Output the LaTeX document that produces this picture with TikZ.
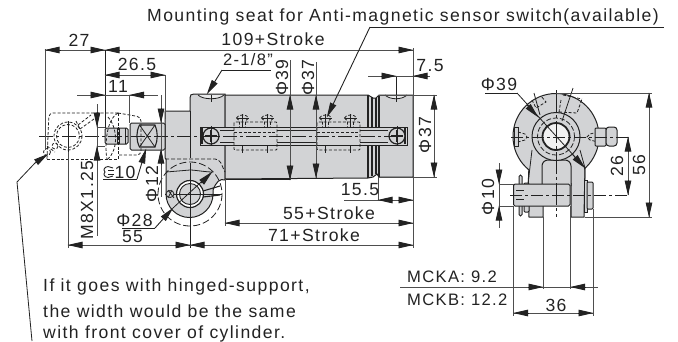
\documentclass[tikz,border=0pt]{standalone}
\usepackage{fontspec}
\setmainfont[LetterSpace=8]{Liberation Sans}
\usetikzlibrary{arrows.meta}
\definecolor{bodygray}{HTML}{D2D3D5}
\definecolor{inkc}{HTML}{222222}
\tikzset{
  txt/.style={inner sep=0pt,text=inkc,font=\fontsize{17.6}{20}\selectfont},
  txtb/.style={inner sep=0pt,text=inkc,font=\fontsize{16.6}{20}\selectfont},
  dimline/.style={line width=0.9pt,draw=inkc!80!white},
  thinl/.style={line width=0.8pt,draw=inkc},
  outl/.style={line width=1.1pt,draw=inkc},
  bodyfill/.style={fill=bodygray,draw=inkc,line width=1pt},
  dsh/.style={line width=0.8pt,draw=inkc,dash pattern=on 3pt off 1.8pt},
  ctr/.style={line width=0.8pt,draw=inkc,dash pattern=on 14pt off 3pt on 3pt off 3pt},
  tip/.style={line width=0.9pt,draw=inkc,-{Stealth[length=15pt,width=6.5pt,inset=0pt]},shorten >=-0.5pt},
}
\newcommand{\arr}[4]{\draw[tip] (#1,#2) -- (#3,#4);}
\begin{document}
\begin{tikzpicture}[x=1pt,y=-1pt]
\useasboundingbox (0,0) rectangle (678,341);
% ---------- left view: body
\draw[bodyfill] (165,111) -- (190,111) -- (190,98) .. controls (190,95) and (191,94) .. (194,94) -- (225,94) -- (225,178) -- (225,180) .. controls (220,178) and (216,182) .. (213,190) -- (213,194) arc[start angle=0,end angle=180,radius=23.5] -- (166,172) -- (166,159) -- (165,158) -- cycle;
\draw[bodyfill] (225,95) -- (368,95) -- (373,98) -- (376,98) -- (379,95) -- (413,95) -- (413,177) -- (379,177) -- (377,174) -- (373,177) -- (368,178) -- (225,179) -- cycle;
\draw[outl] (368,95) -- (368,178) (372,97) -- (372,176) (376,98) -- (376,174) (379,95) -- (379,177);
\draw[outl] (225,179.5) -- (290,179.5);
\draw[thinl] (190,111) -- (190,158);
\draw[thinl] (166,172) -- (190,170) .. controls (195,170) and (205,172) .. (213,172);
% rail
\draw[bodyfill] (200,127) rectangle (407,145);
\draw[thinl] (220,130) -- (234,130) (220,142) -- (234,142) (277,130) -- (317,130) (277,142) -- (317,142) (360,130) -- (388,130) (360,142) -- (388,142);
\draw[outl] (202,128) -- (202,144) (405,128) -- (405,144);
% rail screws
\foreach \nm/\sx in {sa/211,sb/397}{
  \draw[bodyfill,line width=1.2pt] (\sx,136) circle (8);
  \draw[line width=1.4pt,draw=inkc] (\sx-6,136) -- (\sx+6,136) (\sx,130) -- (\sx,142);
  \draw[thinl] (\sx,126) -- (\sx,146);
}
% sensor switches
\foreach \sx in {234,317}{
  \draw[dsh,rounded corners=1pt] (\sx,122) rectangle (\sx+43,150);
  \draw[dsh] (\sx,132) -- (\sx+43,132);
  \foreach \dx in {8.5,33.5}{
    \draw[dsh] (\sx+\dx-6,118) .. controls (\sx+\dx-5,114) and (\sx+\dx+5,114) .. (\sx+\dx+6,118) -- (\sx+\dx+3,121) -- (\sx+\dx+3,127) (\sx+\dx-6,118) -- (\sx+\dx-3,121) -- (\sx+\dx-3,127);
    \draw[thinl] (\sx+\dx-6,118) -- (\sx+\dx+6,118);
    \draw[thinl] (\sx+\dx,114) -- (\sx+\dx,127) (\sx+\dx,146) -- (\sx+\dx,153);
  }
}
% port notches
\draw[thinl,fill=bodygray!50!white] (198,95) .. controls (203,100) and (219,100) .. (224,95);
\draw[thinl] (211,95) -- (211,102);
\draw[thinl,fill=bodygray!50!white] (385,95) .. controls (390,100) and (402,100) .. (407,95);
\draw[thinl] (396,76) -- (396,102);
% rod and collar
\draw[bodyfill,rounded corners=1.5pt] (105,128) rectangle (128,144);
\draw[thinl] (119,128) -- (119,144) (125,128) -- (125,144);
\draw[bodyfill,rounded corners=1.5pt] (130,123) rectangle (165,150);
\draw[outl] (139.5,125) .. controls (136,132) and (136,140) .. (139.5,147) -- (155,147) .. controls (158,140) and (158,132) .. (155,125) -- cycle;
\draw[thinl] (139.5,125) -- (155,147) (155,125) -- (139.5,147);
% hinge (dashed)
\draw[dsh,rounded corners=4pt] (47,159) -- (49,113) -- (118,113);
\draw[dsh,rounded corners=4pt] (47,159) -- (118,159);
\draw[dsh,rounded corners=4pt] (118,113) -- (141,117) -- (141,155) -- (118,155);
\draw[dsh] (118,113) .. controls (105,120) and (105,150) .. (107,159);
\draw[dsh] (108,117) .. controls (118,128) and (118,150) .. (108,159);
\draw[dsh] (118,113) -- (118,159);
\draw[dsh] (68,136) circle (14) (68,136) circle (11.5);
\draw[dsh] (78,125) -- (91,115) (80,129) -- (94,119) (76,121) -- (80,129);
\draw[dsh] (47,146) -- (55,152) (47,152) circle (3.5) (55,146) circle (3);
% center lines, left view
\node[coordinate] (cl) at (39,136) {};
\node[coordinate] (cr) at (403,136) {};
\draw[ctr] (cl) -- (cr);
\draw[thinl] (68,121) -- (68,152);
\draw[thinl] (117,128) -- (117,144);
% clevis hole
\draw[dash pattern=on 7pt off 3pt,line width=0.8pt,draw=inkc] (190,194) circle (32);
\draw[line width=1.2pt,draw=inkc,fill=white] (190,194) circle (13.5);
\draw[line width=0.9pt,draw=inkc,fill=bodygray] (190,194) circle (10.5);
\draw[thinl] (165,194) -- (222,194);
\draw[thinl] (190,163) -- (190,248);
\draw[outl] (203,191) -- (220,186) (203,197) -- (220,195);
\draw[thinl,fill=bodygray] (170,194) ellipse (4 and 3.5);
\draw[thinl] (168,190) -- (174,198) (172,190) -- (168,198);
\draw[dash pattern=on 4pt off 2pt,line width=0.8pt,draw=inkc,rounded corners=4pt] (165,159) -- (219,159) -- (225,172);
% dimension lines, left view
\draw[dimline] (45,49) -- (45,150);
\draw[dimline] (45,50) -- (413,50);
\draw[dimline] (413,48) -- (413,248);
\draw[outl,line width=0.9pt] (105,50) -- (105,128);
\arr{61}{50}{45}{50}
\arr{91}{50}{105}{50}
\arr{120}{50}{105}{50}
\arr{398}{50}{413}{50}
\draw[dimline] (105,75) -- (165,75) (165,75) -- (165,119);
\arr{120}{75}{105}{75}
\arr{150}{75}{165}{75}
\draw[dimline] (77,95) -- (158,95) (129.5,95) -- (129.5,123);
\arr{91}{95}{105}{95}
\arr{145}{95}{129.5}{95}
\draw[dimline] (161,95) -- (161,197);
\arr{161}{108}{161}{123}
\arr{161}{165}{161}{149}
\draw[dimline] (97,104) -- (97,236) (97,127) -- (105,127) (97,146) -- (105,146);
\arr{97}{112}{97}{127}
\arr{97}{161}{97}{146}
\draw[dimline] (68,152) -- (68,248) (68,245) -- (413,245);
\arr{83}{245}{68}{245}
\arr{175}{245}{190}{245}
\arr{205}{245}{190}{245}
\arr{398}{245}{413}{245}
\draw[dimline] (225,179) -- (225,226) (225,223) -- (413,223);
\arr{240}{223}{225}{223}
\arr{398}{223}{413}{223}
\draw[dimline] (378,178) -- (378,200) (344,200) -- (413,200);
\arr{393}{200}{378}{200}
\arr{398}{200}{413}{200}
\draw[dimline] (368,76) -- (430,76);
\arr{381}{76}{396}{76}
\arr{428}{76}{413}{76}
\draw[dimline] (378,95) -- (437,95) (378,177) -- (437,177) (434,95) -- (434,177);
\arr{434}{110}{434}{95}
\arr{434}{162}{434}{177}
\draw[dimline] (290,60) -- (290,180) (316,62) -- (316,178);
\arr{290}{108}{290}{95}
\arr{290}{165}{290}{180}
\arr{316}{108}{316}{95}
\arr{316}{163}{316}{178}
% leaders
\draw[thinl] (370,27) -- (664,27);
\arr{370}{27}{327}{117}
\draw[thinl] (222,70) -- (271,70);
\arr{222}{70}{207}{94}
\draw[thinl] (122,228) -- (155,228);
\arr{155}{228}{173}{208}
\draw[thinl] (173,208) -- (212,172);
\arr{201}{183}{212}{172}
\draw[thinl] (103,179) -- (137,179);
\arr{137}{179}{146}{149}
\draw[thinl] (32,341) -- (17,182) -- (35,163);
\arr{35}{163}{48}{154}
% wrench symbol
\draw[line width=0.9pt,draw=inkc] (113,168) -- (108,166.5) .. controls (104,167) and (103,170) .. (105,172) .. controls (103,174) and (104,177) .. (108,177.5) -- (113,176);
\draw[line width=0.9pt,draw=inkc] (108,170) -- (114,170) (108,174) -- (114,174);
% ---------- right view
\draw[bodyfill] (529,165) -- (528,190) -- (529,217) -- (543,217) -- (543,165) -- cycle;
\draw[bodyfill] (571,165) -- (571,217) -- (584,217) -- (585,165) -- cycle;
\draw[bodyfill] (556,136.5) circle (43);
\draw[fill=bodygray,draw=none] (530,150) rectangle (584,183);
\draw[thinl] (532,150) -- (528,184) (580,150) -- (585,168) -- (585,184);
\draw[bodyfill,rounded corners=6pt] (542,186) -- (542,160) -- (571,160) -- (571,186);
\draw[bodyfill] (556,136.5) circle (24);
\draw[dash pattern=on 5pt off 2pt,line width=0.8pt,draw=inkc] (556,136.5) circle (18.5);
\draw[line width=1.8pt,draw=inkc,fill=white!70!bodygray] (556,136.5) circle (13.5);
% side screws and fitting
\draw[bodyfill] (514,127) rectangle (518,146);
\draw[dsh] (518,132) -- (525,134) -- (527,137) -- (525,140) -- (518,142);
\draw[dsh] (598,132) -- (590,134) -- (587,137) -- (590,140) -- (598,142);
\draw[bodyfill,rounded corners=1pt] (595,128) rectangle (606,146);
\draw[bodyfill,rounded corners=3pt] (606,127) rectangle (617,146);
% dashed sensor at top
\draw[dsh] (532,100) -- (536,108) -- (546,102) -- (541,96);
\draw[dsh] (563,95) -- (582,99) (559,112) -- (577,113) -- (582,99) (561,100) -- (559,112);
\draw[thinl] (534,93) -- (540,115) (573,88) -- (562,121);
% pin, rings
\draw[bodyfill,rounded corners=1.5pt] (519,175) rectangle (522,216);
\draw[bodyfill,rounded corners=1pt] (524,183) rectangle (529,212);
\draw[bodyfill,rounded corners=1.5pt] (513.5,184) -- (570,184) -- (570,206) -- (513.5,206) -- cycle;
\draw[bodyfill] (584,180) rectangle (587,212);
\draw[bodyfill,rounded corners=1pt] (587,182) rectangle (593,209);
\draw[thinl] (516,190) -- (524,190) (516,199) -- (524,199);
% center lines, right view
\draw[thinl,dash pattern=on 12pt off 3pt on 3pt off 3pt] (511,137) -- (628,137);
\draw[thinl,dash pattern=on 12pt off 3pt on 3pt off 3pt] (510,195) -- (628,195);
\draw[thinl,dash pattern=on 22pt off 3pt on 3pt off 3pt] (556,90) -- (556,217);
% dims right view
\draw[dimline] (556,93) -- (652,93) (585,217) -- (652,217) (649,93) -- (649,217);
\arr{649}{108}{649}{93}
\arr{649}{202}{649}{217}
\draw[dimline] (628,137) -- (628,195);
\arr{628}{152}{628}{137}
\arr{628}{180}{628}{195}
\draw[dimline] (499,163) -- (499,228) (499,184) -- (514,184) (499,206) -- (514,206);
\arr{499}{169}{499}{184}
\arr{499}{221}{499}{206}
\draw[thinl] (485,93) -- (517,93);
\draw[thinl] (517,93) -- (585,168);
\arr{527}{105}{538}{117}
\arr{573}{155}{585}{168}
\draw[dimline] (513.5,206) -- (513.5,316) (543,217) -- (543,289) (570.5,206) -- (570.5,289) (593,209) -- (593,316);
\draw[dimline] (400,287) -- (598,287) (513,313) -- (594,313);
\arr{528}{287}{543}{287}
\arr{585}{287}{570.5}{287}
\arr{529}{313}{513.5}{313}
\arr{578}{313}{593}{313}
% texts
\node[txt,anchor=west] (tMount) at (147,17) {Mounting seat for Anti-magnetic sensor switch(available)};
\node[txt] (t27) at (79,40) {27};
\node[txt] (t109) at (273,39) {109+Stroke};
\node[txt] (t265) at (137,64) {26.5};
\node[txt] (t11) at (118,86) {11};
\node[txtb] (t2) at (248,60) {2-1/8"};
\node[txt,rotate=90] (tp39) at (282,77.5) {Φ39};
\node[txt,rotate=90] (tp37) at (308,77.5) {Φ37};
\node[txt] (t75) at (430,66) {7.5};
\node[txt,rotate=90] (tp37b) at (425,135) {Φ37};
\node[txt,rotate=90] (tm8) at (87,200) {M8X1.25};
\node[txt,rotate=90] (tp12) at (152,184) {Φ12};
\node[txt] (t10) at (125,172) {10};
\node[txt] (tp28) at (134.5,220) {Φ28};
\node[txt] (t55) at (132.5,237) {55};
\node[txt] (t155) at (360,190) {15.5};
\node[txt] (t55s) at (329,213) {55+Stroke};
\node[txt] (t71s) at (314,235) {71+Stroke};
\node[txt,anchor=west] (tl1) at (43,287) {If it goes with hinged-support,};
\node[txt,anchor=west] (tl2) at (43,311) {the width would be the same};
\node[txt,anchor=west] (tl3) at (43,334) {with front cover of cylinder.};
\node[txt] (tr39) at (499,84) {Φ39};
\node[txt,rotate=90] (t26) at (617,166) {26};
\node[txt,rotate=90] (t56) at (639,165) {56};
\node[txt,rotate=90] (tp10) at (488,197) {Φ10};
\node[txtb,anchor=west] (tka) at (407,277) {MCKA: 9.2};
\node[txtb,anchor=west] (tkb) at (407,300) {MCKB: 12.2};
\node[txt] (t36) at (556,305) {36};
\end{tikzpicture}
\end{document}
